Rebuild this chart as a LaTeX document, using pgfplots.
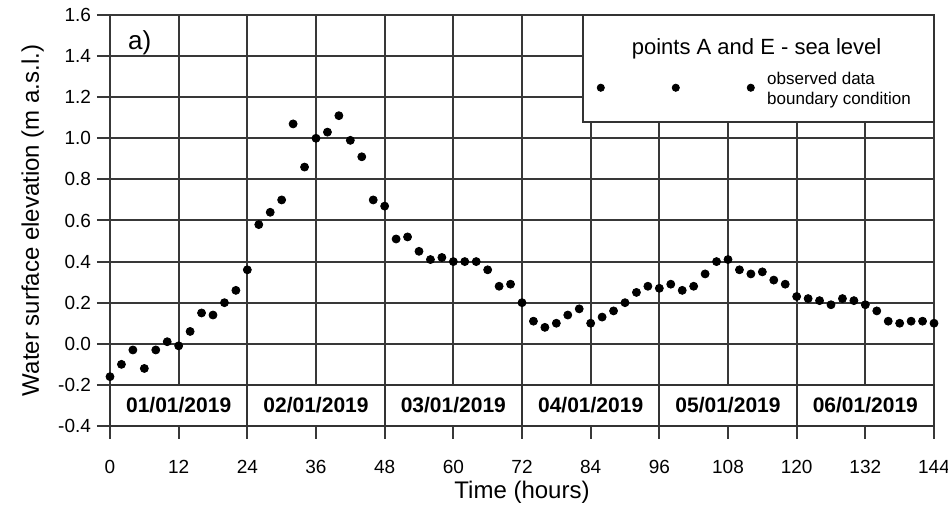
\documentclass[border=0pt]{standalone}
\usepackage{pgfplots}
\pgfplotsset{compat=1.18}
\usepackage{fontspec}
\setmainfont{Liberation Sans}
\pgfplotstableread{
h v
0 -0.16
2 -0.10
4 -0.03
6 -0.12
8 -0.03
10 0.01
12 -0.01
14 0.06
16 0.15
18 0.14
20 0.20
22 0.26
24 0.36
26 0.58
28 0.64
30 0.70
32 1.07
34 0.86
36 1.00
38 1.03
40 1.11
42 0.99
44 0.91
46 0.70
48 0.67
50 0.51
52 0.52
54 0.45
56 0.41
58 0.42
60 0.40
62 0.40
64 0.40
66 0.36
68 0.28
70 0.29
72 0.20
74 0.11
76 0.08
78 0.10
80 0.14
82 0.17
84 0.10
86 0.13
88 0.16
90 0.20
92 0.25
94 0.28
96 0.27
98 0.29
100 0.26
102 0.28
104 0.34
106 0.40
108 0.41
110 0.36
112 0.34
114 0.35
116 0.31
118 0.29
120 0.23
122 0.22
124 0.21
126 0.19
128 0.22
130 0.21
132 0.19
134 0.16
136 0.11
138 0.10
140 0.11
142 0.11
144 0.10
}\obs
\begin{document}
\begin{tikzpicture}
\useasboundingbox (-55pt,-40pt) rectangle (419pt,213pt);
\begin{axis}[
  scale only axis, width=412pt, height=205.5pt,
  at={(0,0)}, anchor=south west,
  xmin=0, xmax=144, ymin=-0.4, ymax=1.6,
  xtick={0,12,...,144},
  ytick={-0.4,-0.2,0,0.2,0.4,0.6,0.8,1.0,1.2,1.4,1.6},
  y tick label style={/pgf/number format/fixed, /pgf/number format/fixed zerofill, /pgf/number format/precision=1},
  /pgf/number format/assume math mode=true,
  grid=major,
  major grid style={black!78, line width=1pt},
  axis line style={black!78, line width=1pt},
  tick style={black!78, line width=1pt},
  tick align=outside, tick pos=left, major tick length=6.5pt,
  ticklabel style={font=\fontsize{9.5}{11}\selectfont},
  xticklabel style={yshift=-7pt},
  yticklabel style={xshift=0.5pt},
  xlabel={Time (hours)},
  ylabel={Water surface elevation (m a.s.l.)},
  label style={font=\fontsize{12}{14}\selectfont},
  xlabel style={at={(axis description cs:0.5,-0.1606)}, anchor=center},
  ylabel style={at={(axis description cs:-0.094,0.5)}, anchor=center},
  clip=false,
  legend style={draw=none, fill=none, at={(axis cs:85.0,1.246)}, anchor=west,
    inner sep=0pt, font=\fontsize{8.5}{10}\selectfont},
  legend cell align=left,
  legend image code/.code={
    \fill[black] (0pt,0pt) circle (1.8pt);
    \fill[black] (37.5pt,0pt) circle (1.8pt);
    \fill[black] (75pt,0pt) circle (1.8pt);
    \path (81pt,0pt);
  },
]
% date boxes
\draw[black!80, line width=1pt, fill=white] (axis cs:0,-0.4) rectangle (axis cs:24,-0.2);
\draw[black!80, line width=1pt, fill=white] (axis cs:24,-0.4) rectangle (axis cs:48,-0.2);
\draw[black!80, line width=1pt, fill=white] (axis cs:48,-0.4) rectangle (axis cs:72,-0.2);
\draw[black!80, line width=1pt, fill=white] (axis cs:72,-0.4) rectangle (axis cs:96,-0.2);
\draw[black!80, line width=1pt, fill=white] (axis cs:96,-0.4) rectangle (axis cs:120,-0.2);
\draw[black!80, line width=1pt, fill=white] (axis cs:120,-0.4) rectangle (axis cs:144,-0.2);
\node[font=\fontsize{10.5}{12}\selectfont\bfseries] at (axis cs:12,-0.3) {01/01/2019};
\node[font=\fontsize{10.5}{12}\selectfont\bfseries] at (axis cs:36,-0.3) {02/01/2019};
\node[font=\fontsize{10.5}{12}\selectfont\bfseries] at (axis cs:60,-0.3) {03/01/2019};
\node[font=\fontsize{10.5}{12}\selectfont\bfseries] at (axis cs:84,-0.3) {04/01/2019};
\node[font=\fontsize{10.5}{12}\selectfont\bfseries] at (axis cs:108,-0.3) {05/01/2019};
\node[font=\fontsize{10.5}{12}\selectfont\bfseries] at (axis cs:132,-0.3) {06/01/2019};
% legend frame and title
\draw[black!80, line width=1pt, fill=white] (axis cs:82.6,1.078) rectangle (axis cs:144,1.6);
\node[font=\fontsize{11}{13}\selectfont] at (axis cs:113,1.435) {points A and E - sea level};
\node[font=\fontsize{13}{15}\selectfont] at (axis cs:5.2,1.466) {a)};
\addplot[only marks, mark=*, mark size=2pt, black] table[x=h, y=v] {\obs};
\addlegendentry{\raisebox{4pt}{\begin{tabular}{@{}l@{}}observed data\\boundary condition\end{tabular}}}
\end{axis}
\end{tikzpicture}
\end{document}
